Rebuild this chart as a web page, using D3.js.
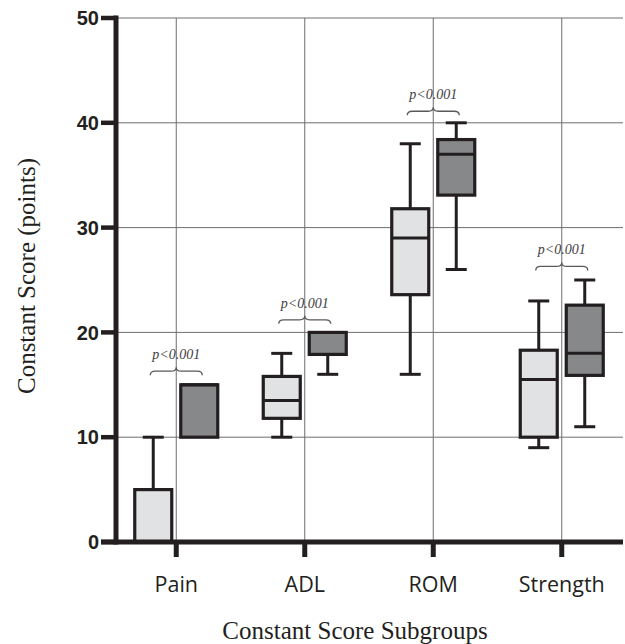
<!DOCTYPE html>
<html>
<head>
<meta charset="utf-8">
<script src="https://cdn.jsdelivr.net/npm/d3@7"></script>
<style>
  html, body { margin: 0; padding: 0; background: #fff; }
  svg { display: block; }
</style>
</head>
<body>
<svg id="chart" width="625" height="644"></svg>
<script>
// ---- Data ----
const categories = ["Pain", "ADL", "ROM", "Strength"];
const groups = ["Group 1", "Group 2"];
// five-number summaries [min, q1, median, q3, max] per category
const group1Stats = [
  [0, 0, 0, 5, 10],
  [10, 11.8, 13.5, 15.8, 18],
  [16, 23.6, 29, 31.8, 38],
  [9, 10, 15.5, 18.3, 23]
];
const group2Stats = [
  [10, 10, 15, 15, 15],
  [16, 17.9, 20, 20, 20],
  [26, 33.1, 37, 38.4, 40],
  [11, 15.9, 18, 22.6, 25]
];
const pLabels = ["p<0.001", "p<0.001", "p<0.001", "p<0.001"];
const braceLevels = [16.3, 21.2, 41.1, 26.3];
const yTicks = [0, 10, 20, 30, 40, 50];
const yTitle = "Constant Score (points)";
const xTitle = "Constant Score Subgroups";

// ---- Layout ----
const svg = d3.select("#chart");
const pLeft = 116, pRight = 623, pTop = 18, pBottom = 542;
const y = d3.scaleLinear().domain([0, 50]).range([pBottom, pTop]);
const x = d3.scaleBand().domain(categories).range([112, 626]).padding(0);
const xc = c => x(c) + x.bandwidth() / 2;
const sub = d3.scalePoint().domain(groups).range([-23, 23]);
const boxW = 37, capW = 21;
const fills = { "Group 1": "#e1e2e3", "Group 2": "#87888a" };
const ink = "#231f20";

// ---- Grid ----
const grid = svg.append("g");
grid.selectAll("line.h").data(yTicks.filter(t => t > 0)).join("line")
  .attr("x1", pLeft).attr("x2", pRight)
  .attr("y1", d => y(d)).attr("y2", d => y(d))
  .attr("stroke", "#6d6e70").attr("stroke-width", 1);
grid.selectAll("line.v").data(categories).join("line")
  .attr("x1", d => xc(d)).attr("x2", d => xc(d))
  .attr("y1", y(50)).attr("y2", pBottom)
  .attr("stroke", "#6d6e70").attr("stroke-width", 1);

// ---- Boxes ----
const rows = [];
categories.forEach((c, i) => {
  rows.push({ cat: c, grp: groups[0], s: group1Stats[i] });
  rows.push({ cat: c, grp: groups[1], s: group2Stats[i] });
});
const bx = svg.append("g").selectAll("g").data(rows).join("g")
  .attr("transform", d => `translate(${xc(d.cat) + sub(d.grp)},0)`);
// whiskers
bx.append("line").attr("x1", 0).attr("x2", 0)
  .attr("y1", d => y(d.s[4])).attr("y2", d => y(d.s[3]))
  .attr("stroke", ink).attr("stroke-width", 3);
bx.append("line").attr("x1", 0).attr("x2", 0)
  .attr("y1", d => y(d.s[1])).attr("y2", d => y(d.s[0]))
  .attr("stroke", ink).attr("stroke-width", 3);
bx.filter(d => d.s[4] > d.s[3]).append("line")
  .attr("x1", -capW / 2).attr("x2", capW / 2)
  .attr("y1", d => y(d.s[4])).attr("y2", d => y(d.s[4]))
  .attr("stroke", ink).attr("stroke-width", 3);
bx.filter(d => d.s[0] < d.s[1]).append("line")
  .attr("x1", -capW / 2).attr("x2", capW / 2)
  .attr("y1", d => y(d.s[0])).attr("y2", d => y(d.s[0]))
  .attr("stroke", ink).attr("stroke-width", 3);
// box
bx.append("rect")
  .attr("x", -boxW / 2).attr("width", boxW)
  .attr("y", d => y(d.s[3])).attr("height", d => y(d.s[1]) - y(d.s[3]))
  .attr("fill", d => fills[d.grp]).attr("stroke", ink).attr("stroke-width", 3.2);
// median
bx.append("line")
  .attr("x1", -boxW / 2).attr("x2", boxW / 2)
  .attr("y1", d => y(d.s[2])).attr("y2", d => y(d.s[2]))
  .attr("stroke", ink).attr("stroke-width", 3);

// ---- Significance braces ----
const ann = svg.append("g").selectAll("g").data(categories).join("g")
  .attr("transform", (d, i) => `translate(${xc(d)},${y(braceLevels[i])})`);
ann.append("path")
  .attr("d", () => {
    const w = 26, h = 4;
    return `M${-w},${h} Q${-w},0 ${-w + 5},0 L-5,0 Q0,0 0,${-h} Q0,0 5,0 L${w - 5},0 Q${w},0 ${w},${h}`;
  })
  .attr("fill", "none").attr("stroke", "#58595b").attr("stroke-width", 1.3);
ann.append("text")
  .attr("x", 0).attr("y", -12)
  .attr("text-anchor", "middle")
  .attr("font-family", "Liberation Serif, Times New Roman, serif")
  .attr("font-style", "italic").attr("font-size", 14)
  .attr("fill", "#414042")
  .text((d, i) => pLabels[i]);

// ---- Axes ----
const yAxis = svg.append("g");
yAxis.append("line").attr("x1", pLeft).attr("x2", pLeft)
  .attr("y1", pTop - 2.5).attr("y2", pBottom + 2.5)
  .attr("stroke", ink).attr("stroke-width", 5);
yAxis.selectAll("line.t").data(yTicks).join("line")
  .attr("x1", 101).attr("x2", pLeft)
  .attr("y1", d => y(d)).attr("y2", d => y(d))
  .attr("stroke", ink).attr("stroke-width", 4.5);
yAxis.selectAll("text").data(yTicks).join("text")
  .attr("x", 99).attr("y", d => y(d)).attr("dy", "0.36em")
  .attr("text-anchor", "end")
  .attr("font-family", "Liberation Sans, Arial, sans-serif")
  .attr("font-weight", "bold").attr("font-size", 20)
  .attr("fill", ink)
  .text(d => d);

const xAxis = svg.append("g");
xAxis.append("line").attr("x1", 101).attr("x2", pRight)
  .attr("y1", pBottom).attr("y2", pBottom)
  .attr("stroke", ink).attr("stroke-width", 5);
xAxis.selectAll("line.t").data(categories).join("line")
  .attr("x1", d => xc(d)).attr("x2", d => xc(d))
  .attr("y1", pBottom).attr("y2", 557)
  .attr("stroke", ink).attr("stroke-width", 5);
xAxis.selectAll("text").data(categories).join("text")
  .attr("x", d => xc(d)).attr("y", 592)
  .attr("text-anchor", "middle")
  .attr("font-family", "Open Sans, Lato, sans-serif")
  .attr("font-size", 21.5)
  .attr("fill", ink)
  .text(d => d);

svg.append("text")
  .attr("x", 355).attr("y", 639)
  .attr("text-anchor", "middle")
  .attr("font-family", "Liberation Serif, Times New Roman, serif")
  .attr("font-size", 25).attr("fill", ink)
  .text(xTitle);
svg.append("text")
  .attr("transform", "translate(35,276) rotate(-90)")
  .attr("text-anchor", "middle")
  .attr("font-family", "Liberation Serif, Times New Roman, serif")
  .attr("font-size", 25).attr("fill", ink)
  .text(yTitle);
</script>
</body>
</html>
